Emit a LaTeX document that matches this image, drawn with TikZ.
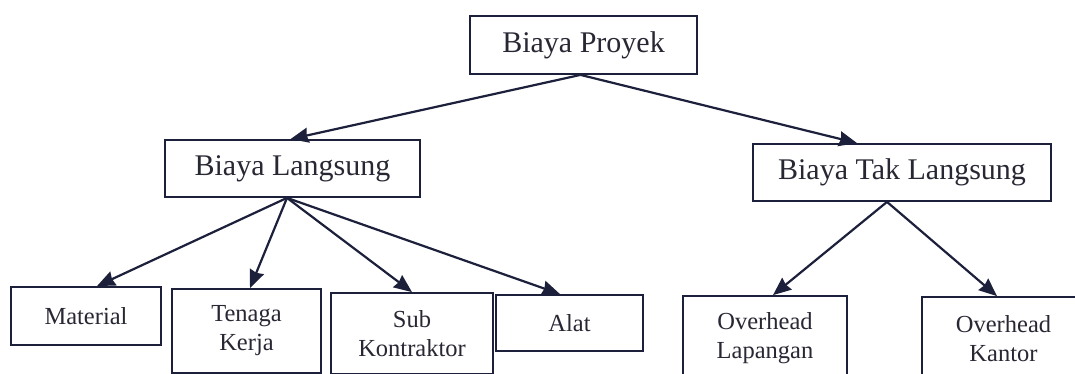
\documentclass[tikz,border=0pt]{standalone}
\usepackage{fontspec}
\setmainfont{Liberation Serif}
\usetikzlibrary{arrows.meta}
\definecolor{inkline}{RGB}{28,32,58}
\definecolor{inktext}{RGB}{40,40,52}
\begin{document}
\begin{tikzpicture}[x=1pt,y=-1pt,
  box/.style={draw=inkline, line width=1.8pt, rectangle, inner sep=0pt,
    text=inktext, align=center},
  topbox/.style={box, font=\fontsize{30}{36}\selectfont},
  leafbox/.style={box, font=\fontsize{24.5}{29}\selectfont},
  link/.style={draw=inkline, line width=2.2pt,
    -{Stealth[length=18pt,width=15pt,inset=1.5pt]}}]
\useasboundingbox (0,0) rectangle (1075,374);
\clip (0,0) rectangle (1075,374);
\fill[white] (0,0) rectangle (1075,374);

% upper levels
\node[topbox, minimum width=227pt, minimum height=58pt] (proyek) at (583.5,45) {Biaya Proyek};
\node[topbox, minimum width=255pt, minimum height=57pt] (langsung) at (292.5,168.5) {Biaya Langsung};
\node[topbox, minimum width=298pt, minimum height=57pt] (taklangsung) at (902,172.5) {Biaya Tak Langsung};

% cost components
\node[leafbox, minimum width=150pt, minimum height=58pt] (material) at (86,316) {Material};
\node[leafbox, minimum width=149pt, minimum height=84pt] (tenaga) at (246.5,331) {Tenaga\\Kerja};
\node[leafbox, minimum width=162pt, minimum height=81pt] (sub) at (412,333.5) {Sub\\Kontraktor};
\node[leafbox, minimum width=147pt, minimum height=56pt] (alat) at (569.5,323) {Alat};
\node[leafbox, minimum width=164pt, minimum height=84pt] (ohlap) at (765,338) {Overhead\\Lapangan};
\node[leafbox, minimum width=163pt, minimum height=83pt] (ohkan) at (1003.5,338.5) {Overhead\\Kantor};

% connectors
\draw[link] ([xshift=-3pt]proyek.south) -- ([xshift=-2pt]langsung.north);
\draw[link] ([xshift=-3pt]proyek.south) -- ([xshift=-45pt]taklangsung.north);

\draw[link] ([xshift=-5.5pt]langsung.south) -- ([xshift=11pt]material.north);
\draw[link] ([xshift=-5.5pt]langsung.south) -- ([xshift=3.5pt]tenaga.north);
\draw[link] ([xshift=-5.5pt]langsung.south) -- (sub.north);
\draw[link] ([xshift=-5.5pt]langsung.south) -- ([xshift=-9.5pt]alat.north);

\draw[link] ([xshift=-15pt]taklangsung.south) -- ([xshift=8pt]ohlap.north);
\draw[link] ([xshift=-15pt]taklangsung.south) -- ([xshift=-6.5pt]ohkan.north);
\end{tikzpicture}
\end{document}
